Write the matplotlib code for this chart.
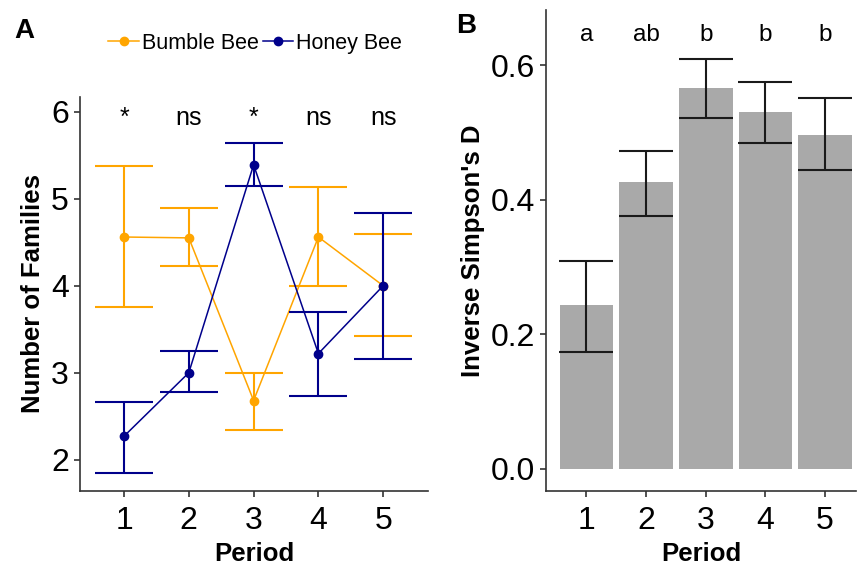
import numpy as np
import matplotlib
matplotlib.use("Agg")
import matplotlib.pyplot as plt

plt.rcParams["font.family"] = ["Liberation Sans", "DejaVu Sans"]

# panel A data
period = [1, 2, 3, 4, 5]
bumble_mean = [4.56, 4.55, 2.68, 4.56, 4.00]
bumble_lo = [3.75, 4.23, 2.34, 4.00, 3.42]
bumble_hi = [5.38, 4.89, 3.00, 5.13, 4.60]
honey_mean = [2.27, 3.00, 5.39, 3.22, 4.00]
honey_lo = [1.85, 2.78, 5.15, 2.73, 3.16]
honey_hi = [2.66, 3.25, 5.64, 3.70, 4.84]
sig_labels = ["*", "ns", "*", "ns", "ns"]

# panel B data
simpson_mean = [0.243, 0.427, 0.567, 0.531, 0.497]
simpson_lo = [0.173, 0.376, 0.521, 0.484, 0.445]
simpson_hi = [0.309, 0.473, 0.609, 0.575, 0.551]
group_labels = ["a", "ab", "b", "b", "b"]

ORANGE = "#FFA500"
NAVY = "#00008B"
SPINE = "#333333"

fig = plt.figure(figsize=(8.57, 5.67), dpi=100)
axA = fig.add_axes([0.0933, 0.134, 0.406, 0.695])
axB = fig.add_axes([0.637, 0.134, 0.362, 0.848])


def style_axis(ax):
    for s in ["top", "right"]:
        ax.spines[s].set_visible(False)
    for s in ["left", "bottom"]:
        ax.spines[s].set_color(SPINE)
        ax.spines[s].set_linewidth(1.2)
    ax.tick_params(axis="both", length=4, width=1.2, color=SPINE,
                   labelsize=23, pad=4, labelcolor="black")
    ax.tick_params(axis="x", pad=7)


# panel A
x = np.array(period)
for mean, lo, hi, col, lab in [(bumble_mean, bumble_lo, bumble_hi, ORANGE, "Bumble Bee"),
                               (honey_mean, honey_lo, honey_hi, NAVY, "Honey Bee")]:
    mean = np.array(mean)
    err = [mean - np.array(lo), np.array(hi) - mean]
    axA.errorbar(x, mean, yerr=err, fmt="none", ecolor=col, elinewidth=1.5,
                 capsize=21, capthick=1.5)
    axA.plot(x, mean, "-o", color=col, lw=1.1, ms=6, label=lab)

for xi, s in zip(period, sig_labels):
    axA.text(xi, 5.93, s, ha="center", va="center", fontsize=18)

style_axis(axA)
axA.set_xlim(0.32, 5.69)
axA.set_ylim(1.64, 6.17)
axA.set_xticks(period)
axA.set_yticks([2, 3, 4, 5, 6])
axA.set_xlabel("Period", fontsize=18.5, fontweight="bold", labelpad=4)
axA.set_ylabel("Number of Families", fontsize=18.5, fontweight="bold", labelpad=4)

fig.legend(*axA.get_legend_handles_labels(), loc="center", bbox_to_anchor=(0.298, 0.924),
           ncol=2, frameon=False, fontsize=15.5, handlelength=1.4, handletextpad=0.15,
           columnspacing=0.2, borderaxespad=0)

# panel B
smean = np.array(simpson_mean)
axB.bar(x, smean, width=0.9, color="#A9A9A9", zorder=1)
axB.errorbar(x, smean, yerr=[smean - np.array(simpson_lo), np.array(simpson_hi) - smean],
             fmt="none", ecolor="#1a1a1a", elinewidth=1.5, capsize=19.5, capthick=1.5, zorder=2)
for xi, s in zip(period, group_labels):
    axB.text(xi, 0.645, s, ha="center", va="center", fontsize=17.5)

style_axis(axB)
axB.set_xlim(0.32, 5.52)
axB.set_ylim(-0.033, 0.682)
axB.set_xticks(period)
axB.set_yticks([0.0, 0.2, 0.4, 0.6])
axB.set_yticklabels(["0.0", "0.2", "0.4", "0.6"])
axB.set_xlabel("Period", fontsize=18.5, fontweight="bold", labelpad=4)
axB.set_ylabel("Inverse Simpson's D", fontsize=18.5, fontweight="bold", labelpad=4)

fig.text(0.017, 0.945, "A", fontsize=20, fontweight="bold", va="center", ha="left")
fig.text(0.532, 0.955, "B", fontsize=20, fontweight="bold", va="center", ha="left")

fig.savefig("out.png", dpi=100)
